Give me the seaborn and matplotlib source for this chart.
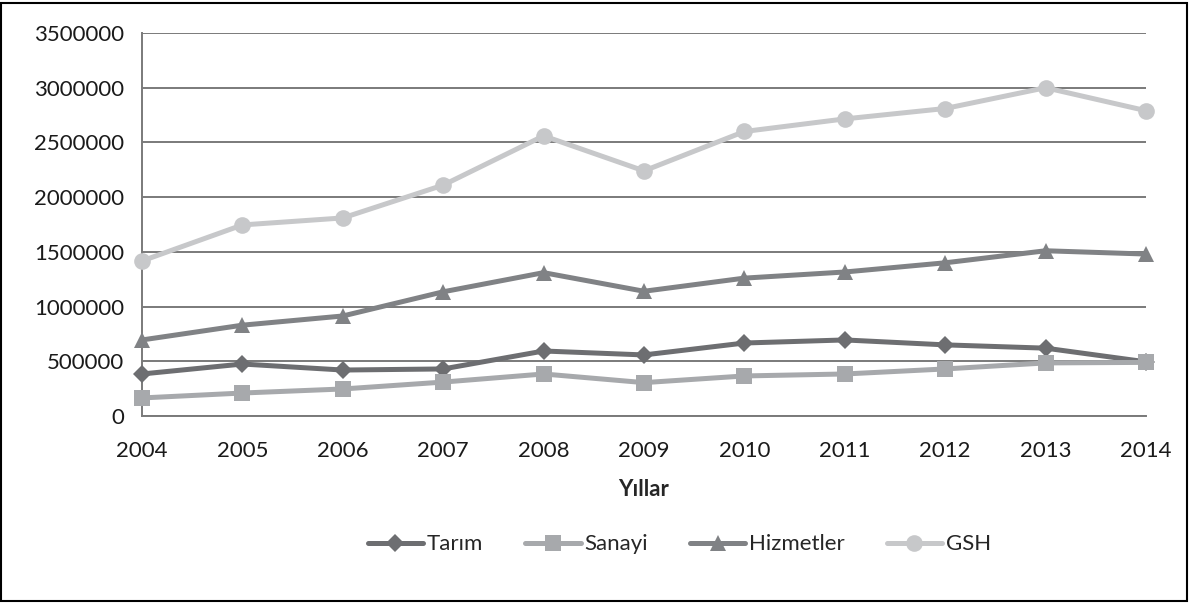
import matplotlib.pyplot as plt
import pandas as pd
import seaborn as sns
from matplotlib.patches import Rectangle

years = [2004, 2005, 2006, 2007, 2008, 2009, 2010, 2011, 2012, 2013, 2014]
tarim = [384000, 475000, 420000, 430000, 594000, 558000, 667000, 695000, 650000, 620000, 495000]
sanayi = [165000, 210000, 247000, 310000, 384000, 305000, 366000, 384000, 430000, 485000, 490000]
hizmetler = [695000, 830000, 914000, 1135000, 1310000, 1140000, 1260000, 1316000, 1400000, 1510000, 1480000]
gsh = [1417000, 1746000, 1810000, 2110000, 2560000, 2240000, 2600000, 2715000, 2810000, 3000000, 2790000]

series = ["Tarım", "Sanayi", "Hizmetler", "GSH"]
colors = ["#6d6e71", "#a7a9ac", "#808285", "#c7c8ca"]
markers = ["D", "s", "^", "o"]
sizes = [9, 11, 12, 12]

df = pd.DataFrame({"Yıl": years, "Tarım": tarim, "Sanayi": sanayi,
                   "Hizmetler": hizmetler, "GSH": gsh})
long_df = df.melt(id_vars="Yıl", var_name="Seri", value_name="Değer")

sns.set_style("white")
plt.rcParams["font.family"] = ["Lato", "DejaVu Sans"]

fig = plt.figure(figsize=(11.9, 6.03), dpi=100)
ax = fig.add_axes([142 / 1190, 1 - 416 / 603, (1146 - 142) / 1190, (416 - 33) / 603])

for name, col, mk, ms in zip(series, colors, markers, sizes):
    sns.lineplot(data=long_df[long_df["Seri"] == name], x="Yıl", y="Değer",
                 ax=ax, color=col, marker=mk, markersize=ms, linewidth=3.6,
                 markeredgewidth=0, label=name, zorder=3, clip_on=False)

ax.set_xlim(2004, 2014)
ax.set_ylim(0, 3500000)
ax.set_xticks(years)
ax.set_yticks(range(0, 3500001, 500000))
ax.set_yticklabels([str(v) for v in range(0, 3500001, 500000)])
ax.yaxis.grid(True, color="#7a7a7a", linewidth=1.4)
ax.xaxis.grid(False)
for s in ["top", "right"]:
    ax.spines[s].set_visible(False)
for s in ["left", "bottom"]:
    ax.spines[s].set_color("#7a7a7a")
    ax.spines[s].set_linewidth(1.4)
ax.tick_params(axis="both", direction="out", length=7, width=1.4,
               color="#7a7a7a", labelsize=16, labelcolor="#1a1a1a")
ax.tick_params(axis="x", pad=11)
ax.tick_params(axis="y", pad=6)
ax.set_xlabel("Yıllar", fontsize=16, fontweight="bold", labelpad=13)
ax.set_ylabel("")

ax.legend(loc="center", bbox_to_anchor=(0.535, -0.335), ncol=4, frameon=False,
          fontsize=16, handlelength=2.5, columnspacing=1.9, handletextpad=0.15)

fig.patches.append(Rectangle((1 / 1190, 2 / 603), 1186 / 1190, 598 / 603,
                             transform=fig.transFigure, fill=False,
                             edgecolor="black", linewidth=1.5))

fig.savefig("out.png", dpi=100)
